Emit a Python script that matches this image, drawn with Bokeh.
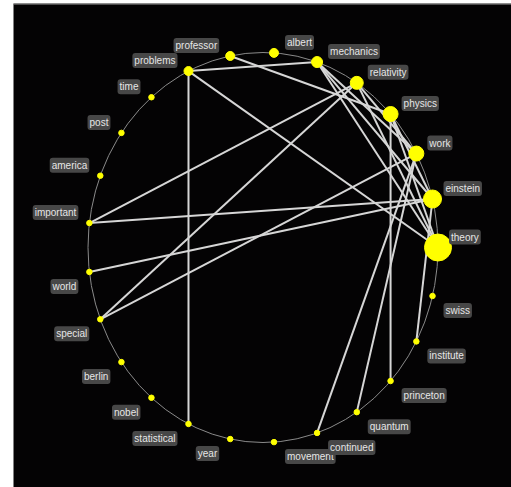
import numpy as np
from bokeh.plotting import figure
from bokeh.models import ColumnDataSource, Range1d, Span
from bokeh.core.properties import value
from bokeh.embed import file_html
from bokeh.resources import INLINE

# Nodes in order around the circle (counter-clockwise, starting at the right)
words = ["theory", "einstein", "work", "physics", "relativity", "mechanics",
         "albert", "professor", "problems", "time", "post", "america",
         "important", "world", "special", "berlin", "nobel", "statistical",
         "year", "movement", "continued", "quantum", "princeton", "institute",
         "swiss"]
# node weight (drawn as marker diameter)
weights = [27, 18, 15, 15, 13, 11,
           9, 9, 9, 5.5, 5.5, 5.5,
           5.5, 5.5, 5.5, 5.5, 5.5, 5.5,
           5.5, 5.5, 5.5, 5.5, 5.5, 5.5,
           5.5]
# co-occurrence links
edge_src = ["problems", "problems", "problems", "professor", "mechanics", "mechanics",
            "mechanics", "relativity", "relativity", "relativity", "relativity",
            "physics", "physics", "work", "work", "work", "einstein", "einstein",
            "einstein", "physics"]
edge_dst = ["mechanics", "statistical", "theory", "physics", "theory", "einstein",
            "work", "important", "special", "theory", "work",
            "princeton", "theory", "special", "continued", "quantum", "important",
            "world", "institute", "einstein"]

n = len(words)
ang = np.arange(n) * 2 * np.pi / n
xs = np.cos(ang)
ys = np.sin(ang)
pos = {w: (xs[i], ys[i]) for i, w in enumerate(words)}

# frame: 498 x 484 px; circle centre 249.5 px from left, 244 px from top; radii 175 x 195 px
p = figure(width=511, height=487, output_backend="svg", toolbar_location=None,
           x_range=Range1d(-249.5 / 175, 248.5 / 175),
           y_range=Range1d(-240 / 195, 244 / 195),
           x_axis_location=None, y_axis_location=None,
           min_border_left=13, min_border_right=0, min_border_top=3, min_border_bottom=0)
p.background_fill_color = "#040304"
p.border_fill_color = "white"
p.outline_line_color = None
p.grid.visible = False

p.add_layout(Span(location=244 / 195, dimension="width", line_color="#9a9a9a", line_width=2))

p.ellipse(x=0, y=0, width=2, height=2, fill_color=None, line_color="#8a8a8a", line_width=1)

ex0 = [pos[a][0] for a in edge_src]
ey0 = [pos[a][1] for a in edge_src]
ex1 = [pos[b][0] for b in edge_dst]
ey1 = [pos[b][1] for b in edge_dst]
p.segment(x0=ex0, y0=ey0, x1=ex1, y1=ey1, line_color="#d6d6d6", line_width=2)

src = ColumnDataSource(dict(x=xs, y=ys, size=weights, word=words))
p.scatter(x="x", y="y", size="size", source=src, fill_color="#ffff00", line_color="#ffff00")

right = xs > 0.02
upper = ys >= -1e-9
align = ["left" if r else "right" for r in right]
base = ["bottom" if u else "top" for u in upper]
xoff = [11 if r else -11 for r in right]
yoff = [-3 if u else 7 for u in upper]
lsrc = ColumnDataSource(dict(x=xs, y=ys, word=words, align=align, base=base, xoff=xoff, yoff=yoff))
p.text(x="x", y="y", text="word", source=lsrc, text_align="align", text_baseline="base",
       x_offset="xoff", y_offset="yoff", text_font=value("Liberation Sans"),
       text_font_size="10px", text_color="#e6e6e6",
       background_fill_color="#474747", border_radius=3, padding=2)

open("out.html", "w").write(file_html(p, INLINE))
